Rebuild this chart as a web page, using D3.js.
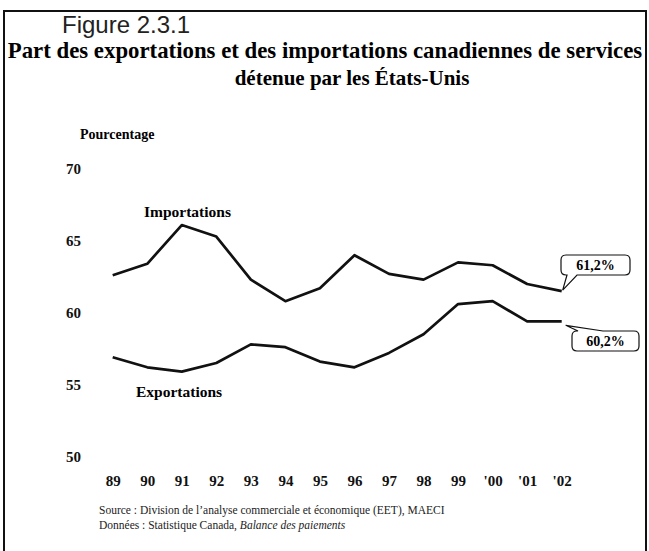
<!DOCTYPE html>
<html>
<head>
<meta charset="utf-8">
<script src="https://cdn.jsdelivr.net/npm/d3@7"></script>
<style>
  body { margin: 0; background: #fff; }
  svg { display: block; }
</style>
</head>
<body>
<div id="chart"></div>
<script>
// years on the x axis and their printed labels
var years = ["89", "90", "91", "92", "93", "94", "95", "96", "97", "98", "99", "00", "01", "02"];
var yearLabels = ["89", "90", "91", "92", "93", "94", "95", "96", "97", "98", "99", "'00", "'01", "'02"];

// percentage of Canadian services trade held by the US
var importations = [62.6, 63.4, 66.1, 65.3, 62.3, 60.8, 61.7, 64.0, 62.7, 62.3, 63.5, 63.3, 62.0, 61.5];
var exportations = [56.9, 56.2, 55.9, 56.5, 57.8, 57.6, 56.6, 56.2, 57.2, 58.5, 60.6, 60.8, 59.4, 59.4];

var yTicks = [50, 55, 60, 65, 70];
var calloutLabels = ["61,2%", "60,2%"];

var svgWidth = 649, svgHeight = 551;
var serif = "'Liberation Serif', 'Times New Roman', serif";

var svg = d3.select("#chart").append("svg")
    .attr("width", svgWidth)
    .attr("height", svgHeight);

// frame
svg.append("path")
    .attr("d", "M4,551 L4,11 L646,11 L646,551")
    .attr("fill", "none")
    .attr("stroke", "#111")
    .attr("stroke-width", 2);

svg.append("text")
    .attr("x", 62).attr("y", 33)
    .style("font-family", "'Liberation Sans', Arial, sans-serif")
    .style("font-size", "24px")
    .attr("fill", "#222")
    .text("Figure 2.3.1");

svg.append("text")
    .attr("x", 325).attr("y", 58)
    .attr("text-anchor", "middle")
    .style("font-family", serif)
    .style("font-size", "22.8px")
    .style("font-weight", "bold")
    .text("Part des exportations et des importations canadiennes de services");

svg.append("text")
    .attr("x", 352).attr("y", 85)
    .attr("text-anchor", "middle")
    .style("font-family", serif)
    .style("font-size", "21px")
    .style("font-weight", "bold")
    .text("détenue par les États-Unis");

svg.append("text")
    .attr("x", 80).attr("y", 139)
    .style("font-family", serif)
    .style("font-size", "14px")
    .style("font-weight", "bold")
    .text("Pourcentage");

var xScale = d3.scalePoint()
    .domain(years)
    .range([112.7, 561.7]);

var yScale = d3.scaleLinear()
    .domain([50, 70])
    .range([456.4, 169]);

var yAxis = d3.axisLeft(yScale)
    .tickValues(yTicks)
    .tickSize(0)
    .tickPadding(0);

var gy = svg.append("g")
    .attr("transform", "translate(81,0)")
    .call(yAxis);
gy.select(".domain").remove();
gy.selectAll("text")
    .style("font-family", serif)
    .style("font-size", "15px")
    .style("font-weight", "bold")
    .attr("fill", "#111");

var xAxis = d3.axisBottom(xScale)
    .tickSize(0)
    .tickPadding(0)
    .tickFormat(function(d, i) { return yearLabels[i]; });

var gx = svg.append("g")
    .attr("transform", "translate(0,475)")
    .call(xAxis);
gx.select(".domain").remove();
gx.selectAll("text")
    .style("font-family", serif)
    .style("font-size", "15px")
    .style("font-weight", "bold")
    .attr("fill", "#111");

var line = d3.line()
    .x(function(d, i) { return xScale(years[i]); })
    .y(function(d) { return yScale(d); });

[importations, exportations].forEach(function(series) {
    svg.append("path")
        .datum(series)
        .attr("d", line)
        .attr("fill", "none")
        .attr("stroke", "#111")
        .attr("stroke-width", 2.7)
        .attr("stroke-linejoin", "round");
});

svg.append("text")
    .attr("x", 144).attr("y", 217)
    .style("font-family", serif)
    .style("font-size", "15.5px")
    .style("font-weight", "bold")
    .text("Importations");

svg.append("text")
    .attr("x", 136).attr("y", 397)
    .style("font-family", serif)
    .style("font-size", "15.5px")
    .style("font-weight", "bold")
    .text("Exportations");

// callout: rounded box with a pointer on the bottom (side=1) or top (side=-1) edge
function callout(x0, y0, x1, y1, ta, tb, px, py, side) {
    var r = 5;
    var p = d3.path();
    p.moveTo(x0 + r, y0);
    if (side === -1) { p.lineTo(ta, y0); p.lineTo(px, py); p.lineTo(tb, y0); }
    p.lineTo(x1 - r, y0);
    p.quadraticCurveTo(x1, y0, x1, y0 + r);
    p.lineTo(x1, y1 - r);
    p.quadraticCurveTo(x1, y1, x1 - r, y1);
    if (side === 1) { p.lineTo(tb, y1); p.lineTo(px, py); p.lineTo(ta, y1); }
    p.lineTo(x0 + r, y1);
    p.quadraticCurveTo(x0, y1, x0, y1 - r);
    p.lineTo(x0, y0 + r);
    p.quadraticCurveTo(x0, y0, x0 + r, y0);
    p.closePath();
    return p.toString();
}

var last = years[years.length - 1];
var impEnd = [xScale(last), yScale(importations[importations.length - 1])];
var expEnd = [xScale(last), yScale(exportations[exportations.length - 1])];

svg.append("path")
    .attr("d", callout(561, 255, 630, 275, 567, 577, impEnd[0] + 1, impEnd[1] - 1, 1))
    .attr("fill", "#fff")
    .attr("stroke", "#111")
    .attr("stroke-width", 1.2);
svg.append("text")
    .attr("x", 595.5).attr("y", 270)
    .attr("text-anchor", "middle")
    .style("font-family", serif)
    .style("font-size", "14px")
    .style("font-weight", "bold")
    .text(calloutLabels[0]);

svg.append("path")
    .attr("d", callout(572, 331, 639, 351, 578, 603, expEnd[0] + 4, expEnd[1] + 4, -1))
    .attr("fill", "#fff")
    .attr("stroke", "#111")
    .attr("stroke-width", 1.2);
svg.append("text")
    .attr("x", 605.5).attr("y", 346)
    .attr("text-anchor", "middle")
    .style("font-family", serif)
    .style("font-size", "14px")
    .style("font-weight", "bold")
    .text(calloutLabels[1]);

// source notes
var notes = svg.append("g")
    .style("font-family", serif)
    .style("font-size", "11.5px")
    .attr("fill", "#222");
notes.append("text")
    .attr("x", 99).attr("y", 514)
    .text("Source : Division de l’analyse commerciale et économique (EET), MAECI");
var n2 = notes.append("text")
    .attr("x", 99).attr("y", 529);
n2.append("tspan").text("Données : Statistique Canada, ");
n2.append("tspan").style("font-style", "italic").text("Balance des paiements");
</script>
</body>
</html>
